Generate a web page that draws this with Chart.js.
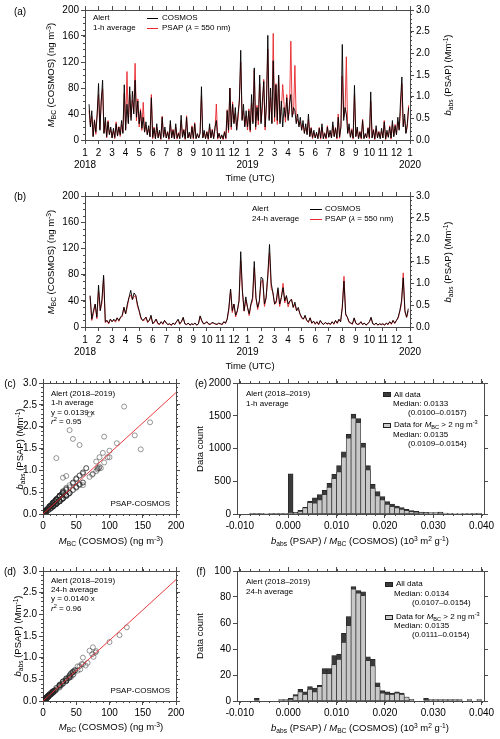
<!DOCTYPE html>
<html><head><meta charset="utf-8">
<script src="https://cdn.jsdelivr.net/npm/chart.js@4.4.1/dist/chart.umd.min.js"></script>
<style>
html,body{margin:0;padding:0;background:#fff;}
#wrap{position:relative;width:500px;height:739px;overflow:hidden;font-family:"Liberation Sans",Arial,sans-serif;color:#000;}
canvas{position:absolute;}
.t{position:absolute;white-space:nowrap;line-height:1;transform:translateY(-50%);font-size:8px;z-index:5;}
.tr{position:absolute;white-space:nowrap;line-height:1;transform:translate(-100%,-50%);font-size:8px;z-index:5;}
.c{position:absolute;white-space:nowrap;line-height:1;transform:translate(-50%,-50%);font-size:9.5px;z-index:5;}
.r{position:absolute;white-space:nowrap;line-height:1;transform:translate(-50%,-50%) rotate(-90deg);font-size:9.5px;z-index:5;}
sub{font-size:0.7em;vertical-align:-0.3em;line-height:0;}
sup{font-size:0.7em;vertical-align:0.55em;line-height:0;}
.ln{position:absolute;height:0;border-top:1px solid #000;z-index:5;}
.bx{position:absolute;box-sizing:border-box;border:1px solid #222;z-index:5;}
</style></head>
<body>
<div id="wrap">
<canvas id="ca" width="500" height="200" style="left:0;top:0;width:500px;height:200px"></canvas>
<canvas id="cb" width="500" height="200" style="left:0;top:186px;width:500px;height:200px"></canvas>
<canvas id="cc" width="200" height="180" style="left:0;top:370px;width:200px;height:180px"></canvas>
<canvas id="cd" width="200" height="179" style="left:0;top:560px;width:200px;height:179px"></canvas>
<canvas id="ce" width="300" height="180" style="left:200px;top:370px;width:300px;height:180px"></canvas>
<canvas id="cf" width="300" height="179" style="left:200px;top:560px;width:300px;height:179px"></canvas>

<!-- (a) -->
<div class="c" style="left:20px;top:12px;font-size:10px">(a)</div>
<div class="r" style="left:51px;top:75px"><i>M</i><sub>BC</sub> (COSMOS) (ng m<sup>-3</sup>)</div>
<div class="r" style="left:448px;top:75px"><i>b</i><sub>abs</sub> (PSAP) (Mm<sup>-1</sup>)</div>
<div class="t" style="left:93px;top:18px">Alert</div>
<div class="t" style="left:93px;top:28px">1-h average</div>
<div class="ln" style="left:147px;top:18px;width:11px"></div>
<div class="t" style="left:162px;top:18px">COSMOS</div>
<div class="ln" style="left:147px;top:28px;width:11px;border-color:#e8262b"></div>
<div class="t" style="left:162px;top:28px">PSAP (<i>λ</i> = 550 nm)</div>
<div class="c" style="left:250px;top:178px">Time (UTC)</div>

<!-- (b) -->
<div class="c" style="left:20px;top:197px;font-size:10px">(b)</div>
<div class="r" style="left:51px;top:262px"><i>M</i><sub>BC</sub> (COSMOS) (ng m<sup>-3</sup>)</div>
<div class="r" style="left:448px;top:262px"><i>b</i><sub>abs</sub> (PSAP) (Mm<sup>-1</sup>)</div>
<div class="t" style="left:252px;top:209px">Alert</div>
<div class="t" style="left:252px;top:219px">24-h average</div>
<div class="ln" style="left:310px;top:209px;width:12px"></div>
<div class="t" style="left:325px;top:209px">COSMOS</div>
<div class="ln" style="left:310px;top:219px;width:12px;border-color:#e8262b"></div>
<div class="t" style="left:325px;top:219px">PSAP (<i>λ</i> = 550 nm)</div>
<div class="c" style="left:250px;top:366px">Time (UTC)</div>

<!-- (c) -->
<div class="c" style="left:10px;top:384px;font-size:10px">(c)</div>
<div class="r" style="left:20px;top:449px"><i>b</i><sub>abs</sub> (PSAP) (Mm<sup>-1</sup>)</div>
<div class="t" style="left:51px;top:394px">Alert (2018–2019)</div>
<div class="t" style="left:51px;top:403px">1-h average</div>
<div class="t" style="left:51px;top:412.5px">y = 0.0139 x</div>
<div class="t" style="left:51px;top:422px"><i>r</i><sup>2</sup> = 0.95</div>
<div class="tr" style="left:170px;top:504px">PSAP-COSMOS</div>
<div class="c" style="left:111px;top:541px"><i>M</i><sub>BC</sub> (COSMOS) (ng m<sup>-3</sup>)</div>

<!-- (d) -->
<div class="c" style="left:10px;top:572px;font-size:10px">(d)</div>
<div class="r" style="left:18px;top:636px"><i>b</i><sub>abs</sub> (PSAP) (Mm<sup>-1</sup>)</div>
<div class="t" style="left:51px;top:581px">Alert (2018–2019)</div>
<div class="t" style="left:51px;top:590px">24-h average</div>
<div class="t" style="left:51px;top:599px">y = 0.0140 x</div>
<div class="t" style="left:51px;top:608.5px"><i>r</i><sup>2</sup> = 0.96</div>
<div class="tr" style="left:170px;top:691px">PSAP-COSMOS</div>
<div class="c" style="left:111px;top:727px"><i>M</i><sub>BC</sub> (COSMOS) (ng m<sup>-3</sup>)</div>

<!-- (e) -->
<div class="c" style="left:201px;top:384px;font-size:10px">(e)</div>
<div class="r" style="left:200px;top:449px">Data count</div>
<div class="t" style="left:246px;top:394px">Alert (2018–2019)</div>
<div class="t" style="left:246px;top:403.5px">1-h average</div>
<div class="bx" style="left:383px;top:392px;width:8px;height:5px;background:#3b3b3b"></div>
<div class="t" style="left:394px;top:394.5px">All data</div>
<div class="t" style="left:393px;top:403.5px">Median: 0.0133</div>
<div class="t" style="left:408px;top:412.5px">(0.0100–0.0157)</div>
<div class="bx" style="left:383px;top:422.5px;width:8px;height:5px;background:#c8c8c8"></div>
<div class="t" style="left:394px;top:424.5px">Data for <i>M</i><sub>BC</sub> &gt; 2 ng m<sup>-3</sup></div>
<div class="t" style="left:393px;top:434.5px">Median: 0.0135</div>
<div class="t" style="left:408px;top:443.5px">(0.0109–0.0154)</div>
<div class="c" style="left:360px;top:541px"><i>b</i><sub>abs</sub> (PSAP) / <i>M</i><sub>BC</sub> (COSMOS) (10<sup>3</sup> m<sup>2</sup> g<sup>-1</sup>)</div>

<!-- (f) -->
<div class="c" style="left:201px;top:572px;font-size:10px">(f)</div>
<div class="r" style="left:200px;top:636px">Data count</div>
<div class="t" style="left:246px;top:582px">Alert (2018–2019)</div>
<div class="t" style="left:246px;top:591.5px">24-h average</div>
<div class="bx" style="left:385px;top:582px;width:8px;height:5px;background:#3b3b3b"></div>
<div class="t" style="left:396px;top:584px">All data</div>
<div class="t" style="left:394px;top:593.5px">Median: 0.0134</div>
<div class="t" style="left:412px;top:602.5px">(0.0107–0.0154)</div>
<div class="bx" style="left:385px;top:614.5px;width:8px;height:5px;background:#c8c8c8"></div>
<div class="t" style="left:396px;top:616.5px">Data for <i>M</i><sub>BC</sub> &gt; 2 ng m<sup>-3</sup></div>
<div class="t" style="left:394px;top:626px">Median: 0.0135</div>
<div class="t" style="left:412px;top:635px">(0.0111–0.0154)</div>
<div class="c" style="left:360px;top:728px"><i>b</i><sub>abs</sub> (PSAP) / <i>M</i><sub>BC</sub> (COSMOS) (10<sup>3</sup> m<sup>2</sup> g<sup>-1</sup>)</div>
</div>

<script>
// ---------------- DATA ----------------
// time axis in months since 1 Jan 2018; tick labels
const monthNames = ['1','2','3','4','5','6','7','8','9','10','11','12'];
const yearLabels = ['2018','2019','2020'];

// 1-h series: samples every 0.1 month starting at month 0.3
const t1hStart = 0.3, t1hStep = 0.1;
const cosmos1h = [
 55,20,45,5,30,12,40,
 87,15,60,92,10,35,5,28,8,20,
 3,18,4,25,6,20,8,30,10,85,
 15,55,25,82,30,75,40,92,35,60,
 25,45,18,35,12,28,8,22,5,65,
 4,18,2,25,3,15,2,35,4,20,
 3,12,2,30,3,15,2,25,3,10,
 2,38,4,15,2,35,3,12,2,20,
 3,25,2,10,3,10,82,3,15,2,
 12,2,25,3,15,2,20,30,3,10,
 2,8,2,12,3,45,15,80,20,55,
 25,50,15,40,60,138,30,55,20,45,
 20,45,15,70,25,111,20,50,30,100,
 25,60,90,20,55,161,30,80,25,122,
 35,85,30,100,25,60,20,50,35,65,
 30,55,70,35,50,45,25,40,20,35,
 15,30,10,25,8,40,5,18,4,15,
 3,12,2,18,3,25,2,10,3,20,
 4,15,3,28,5,18,3,35,5,20,
 147,30,50,40,10,25,4,15,3,84,
 5,20,2,12,3,30,2,10,3,18,
 4,74,3,15,2,22,3,12,2,18,
 3,28,2,15,4,20,3,30,5,22,
 8,35,15,60,97,20,40,10,25,50];
const psap1h = [
 0.68,0.33,0.55,0.09,0.47,0.13,0.61,
 1.05,0.25,0.92,1.18,0.17,0.43,0.05,0.45,0.14,0.24,
 0.06,0.21,0.03,0.42,0.11,0.31,0.08,0.36,0.18,1.08,
 0.26,1.58,0.41,1.05,0.52,0.92,0.66,1.77,0.44,0.95,
 0.30,0.72,0.22,0.87,0.19,0.33,0.13,0.26,0.08,1.05,
 0.03,0.30,0.04,0.29,0.06,0.18,0.01,0.55,0.07,0.23,
 0.05,0.20,0.01,0.36,0.06,0.25,0.03,0.30,0.02,0.17,
 0.04,0.45,0.08,0.25,0.01,0.56,0.05,0.13,0.04,0.33,
 0.02,0.40,0.04,0.11,0.06,0.18,1.02,0.06,0.17,0.04,
 0.20,0.01,0.29,0.06,0.25,0.04,0.23,0.83,0.02,0.16,
 0.04,0.09,0.01,0.20,0.02,0.70,0.17,1.20,0.24,0.88,
 0.40,0.62,0.26,0.48,0.95,1.80,0.48,0.68,0.33,0.55,
 0.23,0.72,0.18,0.85,0.42,1.62,0.24,0.80,0.35,1.30,
 0.42,0.72,1.40,0.23,0.88,2.10,0.50,0.98,0.40,2.46,
 0.42,1.30,0.36,1.45,0.42,0.72,1.28,0.82,0.41,1.05,
 0.50,0.66,2.28,0.58,0.60,1.72,0.42,0.48,0.34,0.42,
 0.25,0.36,0.17,0.29,0.14,0.48,0.09,0.29,0.03,0.17,
 0.06,0.14,0.04,0.29,0.02,0.30,0.04,0.17,0.02,0.33,
 0.07,0.17,0.06,0.34,0.09,0.29,0.02,0.60,0.04,0.33,
 1.48,0.52,0.62,1.92,0.17,0.29,0.07,0.26,0.02,1.05,
 0.09,0.24,0.04,0.20,0.02,0.48,0.04,0.11,0.06,0.29,
 0.03,0.90,0.06,0.25,0.01,0.26,0.06,0.20,0.04,0.21,
 0.06,0.45,0.01,0.17,0.08,0.33,0.02,0.36,0.09,0.36,
 0.13,0.42,0.25,0.66,1.30,0.34,0.48,0.17,0.29,0.80];

// 24-h series: samples every 1/8 month starting at month 0.375
const t24Start = 0.375, t24Step = 0.125;
const cosmos24h = [
 48,12,25,35,15,
 64,25,42,79,8,10,6,12,
 8,12,9,14,10,15,18,30,
 20,35,45,56,42,52,48,35,
 25,15,10,12,15,8,10,18,
 5,8,12,6,4,8,5,10,
 6,4,5,3,6,4,8,12,
 5,8,15,5,4,6,3,5,
 4,6,3,5,17,10,5,6,
 8,5,4,7,6,5,4,6,
 5,4,8,6,12,30,58,25,
 35,18,25,40,115,55,25,46,
 30,20,35,45,100,45,30,40,
 76,74,35,45,80,126,67,52,
 35,40,60,35,45,60,40,48,
 35,40,42,30,38,25,30,20,
 15,12,18,10,8,14,6,9,
 5,8,4,10,6,4,7,5,
 6,4,8,5,10,6,12,8,
 30,70,20,15,8,6,5,14,
 6,4,5,8,4,6,3,5,
 8,15,5,4,6,3,5,4,
 5,3,6,4,8,5,10,6,
 10,15,25,40,75,25,15,28];
const psap24h = [
 0.70,0.15,0.31,0.52,0.19,
 0.82,0.38,0.55,1.12,0.10,0.15,0.07,0.18,
 0.12,0.16,0.11,0.21,0.13,0.22,0.24,0.45,
 0.30,0.46,0.68,0.73,0.63,0.70,0.72,0.47,
 0.36,0.19,0.15,0.15,0.23,0.10,0.15,0.24,
 0.08,0.10,0.18,0.07,0.06,0.12,0.06,0.15,
 0.09,0.05,0.07,0.03,0.09,0.05,0.12,0.16,
 0.06,0.13,0.20,0.07,0.05,0.09,0.04,0.07,
 0.05,0.09,0.04,0.07,0.24,0.13,0.07,0.08,
 0.12,0.06,0.06,0.09,0.09,0.06,0.06,0.08,
 0.07,0.05,0.12,0.08,0.18,0.40,0.85,0.33,
 0.52,0.23,0.37,0.60,1.52,0.80,0.36,0.62,
 0.45,0.26,0.50,0.60,1.36,0.66,0.40,0.58,
 1.02,1.08,0.47,0.66,1.15,1.70,0.88,0.80,
 0.52,0.55,0.85,0.47,0.68,1.00,0.55,0.70,
 0.46,0.58,0.64,0.45,0.52,0.37,0.41,0.30,
 0.20,0.18,0.24,0.15,0.10,0.21,0.08,0.13,
 0.06,0.12,0.05,0.14,0.08,0.06,0.10,0.06,
 0.08,0.06,0.12,0.06,0.15,0.08,0.16,0.12,
 0.45,1.16,0.27,0.22,0.10,0.09,0.06,0.20,
 0.08,0.06,0.06,0.12,0.05,0.09,0.04,0.07,
 0.12,0.20,0.07,0.05,0.09,0.04,0.07,0.05,
 0.07,0.04,0.09,0.05,0.12,0.06,0.15,0.08,
 0.15,0.20,0.36,0.54,1.24,0.34,0.22,0.37];

// regression slopes (from the panel annotations)
const fitSlope1h = 0.0139, fitSlope24h = 0.0140;

// histograms: bins of width 0.001 from -0.010 to 0.040
const binStart = -0.010, binWidth = 0.001;
const histAll1h = [0,0,3,10,12,8,5,4,3,5,
 612,26,56,102,194,245,296,362,469,607,
 740,949,1217,1525,1455,1082,740,454,342,265,
 189,153,122,97,71,51,41,31,26,20,
 20,30,15,10,8,7,5,5,4,3];
const histSel1h = [0,0,0,0,0,0,0,0,0,0,
 20,15,41,92,173,165,214,296,408,541,
 643,867,1157,1465,1395,1020,673,393,276,214,
 148,112,92,71,51,36,26,20,15,10,
 10,15,5,4,3,3,2,2,1,1];
const histAll24h = [0,0,0,2,0,0,0,0,1,1,
 2,5,9,7,11,10,12,25,25,35,
 36,52,65,88,85,84,34,32,14,8,
 7,6,7,6,3,1,0,0,2,1,
 1,1,1,1,1,1,0,1,0,1];
const histSel24h = [0,0,0,0,0,0,0,0,0,0,
 1,4,7,5,9,7,11,21,21,28,
 32,45,58,86,83,81,31,27,11,6,
 5,5,6,5,3,1,0,0,0,0,
 0,0,0,0,0,0,0,0,0,0];

// ---------------- STYLE / HELPERS ----------------
const FONT = '"Liberation Sans", Arial, sans-serif';
const AX = '#4a4a4a';
const RED = '#e8262b';
Chart.defaults.font.family = FONT;
Chart.defaults.color = '#000';
Chart.defaults.animation = false;

function axis(pos, min, max, step, size, showLabels, fmt) {
  const horiz = (pos === 'top' || pos === 'bottom');
  return {
    type: 'linear', position: pos, min: min, max: max, offset: false,
    afterFit: function (s) { if (horiz) s.height = size; else s.width = size; },
    ticks: { display: showLabels, stepSize: step, autoSkip: false, maxRotation: 0, minRotation: 0,
             includeBounds: false, padding: 2, color: '#000', font: { size: 10, family: FONT },
             callback: fmt },
    grid: { display: true, drawOnChartArea: false, drawTicks: true, tickLength: 4, color: AX, lineWidth: 1, offset: false },
    border: { display: true, color: AX, width: 1 }
  };
}
function minorTicks(items) {
  return {
    id: 'minorTicks',
    afterDraw(chart) {
      const ctx = chart.ctx, a = chart.chartArea;
      ctx.save(); ctx.strokeStyle = AX; ctx.lineWidth = 1; ctx.beginPath();
      items.forEach(m => {
        const s = chart.scales[m.scale];
        const n = Math.round((m.to - m.from) / m.step);
        for (let k = 0; k <= n; k++) {
          const p = Math.round(s.getPixelForValue(m.from + k * m.step)) + 0.5;
          if (m.side === 'left') { ctx.moveTo(a.left - m.len, p); ctx.lineTo(a.left, p); }
          else if (m.side === 'right') { ctx.moveTo(a.right, p); ctx.lineTo(a.right + m.len, p); }
          else if (m.side === 'top') { ctx.moveTo(p, a.top - m.len); ctx.lineTo(p, a.top); }
          else { ctx.moveTo(p, a.bottom); ctx.lineTo(p, a.bottom + m.len); }
        }
      });
      ctx.stroke(); ctx.restore();
    }
  };
}
const fmtInt = v => String(v);
const fmt1 = v => v.toFixed(1);
const fmt3 = v => v.toFixed(3);
const fmtMonth = v => {
  const m = Math.round(v), mi = ((m % 12) + 12) % 12;
  return mi === 0 ? [monthNames[mi], yearLabels[m / 12]] : monthNames[mi];
};
const none = () => '';

// ---------------- TIME SERIES (a), (b) ----------------
function timeChart(id, cos, psap, t0, dt, topH, botH) {
  const cosPts = cos.map((v, i) => ({ x: t0 + i * dt, y: v }));
  const psPts = psap.map((v, i) => ({ x: t0 + i * dt, y: v }));
  const x = axis('bottom', 0, 24, 1, botH, true, fmtMonth);
  x.ticks.padding = 3;
  new Chart(document.getElementById(id), {
    type: 'line',
    data: { datasets: [
      { label: 'COSMOS', data: cosPts, yAxisID: 'y', borderColor: '#000', borderWidth: 0.9, pointRadius: 0, tension: 0 },
      { label: 'PSAP (λ = 550 nm)', data: psPts, yAxisID: 'y2', borderColor: RED, borderWidth: 0.9, pointRadius: 0, tension: 0 }
    ]},
    options: {
      responsive: false, animation: false, parsing: true,
      layout: { padding: 0, autoPadding: false },
      plugins: { legend: { display: false }, tooltip: { enabled: false } },
      scales: {
        x: x,
        xTop: axis('top', 0, 24, 1, topH, false, none),
        y: axis('left', 0, 200, 40, 85, true, fmtInt),
        y2: axis('right', 0, 3, 0.5, 90, true, fmt1)
      }
    },
    plugins: [minorTicks([
      { scale: 'y', from: 0, to: 200, step: 10, side: 'left', len: 2 },
      { scale: 'y2', from: 0, to: 3, step: 0.1, side: 'right', len: 2 }
    ])]
  });
}
timeChart('ca', cosmos1h, psap1h, t1hStart, t1hStep, 10, 60);
timeChart('cb', cosmos24h, psap24h, t24Start, t24Step, 10, 59);

// ---------------- SCATTER (c), (d) ----------------
function scatterChart(id, cos, psap, slope, topH, botH) {
  const pts = cos.map((v, i) => ({ x: v, y: psap[i] }));
  new Chart(document.getElementById(id), {
    type: 'scatter',
    data: { datasets: [
      { label: 'fit', data: [{ x: 0, y: 0 }, { x: 200, y: 200 * slope }], showLine: true, pointRadius: 0,
        borderColor: RED, borderWidth: 0.9 },
      { label: 'PSAP-COSMOS', data: pts, pointStyle: 'circle', pointRadius: 2.5, borderWidth: 0.8,
        borderColor: 'rgba(40,40,40,0.6)', backgroundColor: 'rgba(0,0,0,0)' }
    ]},
    options: {
      responsive: false, animation: false,
      layout: { padding: 0, autoPadding: false },
      plugins: { legend: { display: false }, tooltip: { enabled: false } },
      scales: {
        x: axis('bottom', 0, 200, 50, botH, true, fmtInt),
        xTop: axis('top', 0, 200, 50, topH, false, none),
        y: axis('left', 0, 3, 0.5, 43, true, fmt1),
        y2: axis('right', 0, 3, 0.5, 24, false, none)
      }
    },
    plugins: [minorTicks([
      { scale: 'x', from: 0, to: 200, step: 10, side: 'bottom', len: 2 },
      { scale: 'x', from: 0, to: 200, step: 10, side: 'top', len: 2 },
      { scale: 'y', from: 0, to: 3, step: 0.1, side: 'left', len: 2 },
      { scale: 'y', from: 0, to: 3, step: 0.1, side: 'right', len: 2 }
    ])]
  });
}
scatterChart('cc', cosmos1h, psap1h, fitSlope1h, 13, 36);
scatterChart('cd', cosmos24h, psap24h, fitSlope24h, 11, 38);

// ---------------- HISTOGRAMS (e), (f) ----------------
function histChart(id, all, sel, ymax, ystep, topH, botH) {
  const centers = all.map((v, i) => binStart + (i + 0.5) * binWidth);
  new Chart(document.getElementById(id), {
    type: 'bar',
    data: { datasets: [
      { label: 'Data for MBC > 2 ng m-3', data: sel.map((v, i) => ({ x: centers[i], y: v })),
        backgroundColor: '#c8c8c8', borderColor: '#333', borderWidth: 0.7, borderSkipped: false,
        grouped: false, barPercentage: 1, categoryPercentage: 1, order: 0 },
      { label: 'All data', data: all.map((v, i) => ({ x: centers[i], y: v })),
        backgroundColor: '#3b3b3b', borderColor: '#222', borderWidth: 0.7, borderSkipped: false,
        grouped: false, barPercentage: 1, categoryPercentage: 1, order: 1 }
    ]},
    options: {
      responsive: false, animation: false,
      layout: { padding: 0, autoPadding: false },
      plugins: { legend: { display: false }, tooltip: { enabled: false } },
      scales: {
        x: axis('bottom', -0.0106, 0.0405, 0.01, botH, true, fmt3),
        xTop: axis('top', -0.0106, 0.0405, 0.01, topH, false, none),
        y: axis('left', 0, ymax, ystep, 37, true, fmtInt),
        y2: axis('right', 0, ymax, ystep, 16, false, none)
      }
    },
    plugins: [minorTicks([
      { scale: 'x', from: -0.010, to: 0.040, step: 0.002, side: 'bottom', len: 2 },
      { scale: 'x', from: -0.010, to: 0.040, step: 0.002, side: 'top', len: 2 }
    ])]
  });
}
histChart('ce', histAll1h, histSel1h, 2000, 500, 13, 36);
histChart('cf', histAll24h, histSel24h, 100, 20, 11, 38);
</script>
</body></html>
